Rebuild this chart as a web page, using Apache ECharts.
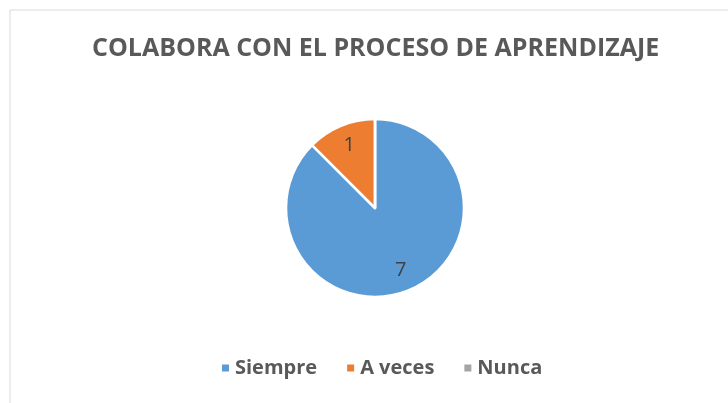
<!DOCTYPE html>
<html><head><meta charset="utf-8">
<script src="https://cdn.jsdelivr.net/npm/echarts@6/dist/echarts.min.js"></script>
<style>html,body{margin:0;padding:0;background:#fff}#c{width:728px;height:403px}</style>
</head><body><div id="c"></div>
<script>
const titleText = 'COLABORA CON EL PROCESO DE APRENDIZAJE';
const categories = ['Siempre', 'A veces', 'Nunca'];
const values = [7, 1, 0];
const colors = ['#5B9BD5', '#ED7D31', '#A5A5A5'];

const chart = echarts.init(document.getElementById('c'));
const data = categories.map((n, i) => ({ name: n, value: values[i] }));
chart.setOption({
  animation: false,
  color: colors,
  title: {
    text: titleText, left: 87, top: 31,
    textStyle: { fontFamily: 'Open Sans', fontWeight: 'bold', fontSize: 25, color: '#595959' }
  },
  legend: {
    bottom: 20, left: 215, itemWidth: 9, itemHeight: 9, itemGap: 28, icon: 'rect',
    textStyle: { fontFamily: 'Open Sans', fontWeight: 'bold', fontSize: 20, color: '#595959' },
    data: categories
  },
  graphic: [{ type: 'rect', shape: { x: 10, y: 10, width: 730, height: 400 }, style: { fill: 'none', stroke: '#D9D9D9', lineWidth: 1 }, silent: true }],
  series: [
    {
      type: 'pie', center: [375, 208], radius: [0, 89], startAngle: 90, clockwise: true,
      itemStyle: { borderColor: '#fff', borderWidth: 2.5 },
      label: { show: false }, labelLine: { show: false },
      data: data
    },
    {
      type: 'pie', center: [375, 208], radius: [40, 89], startAngle: 90, clockwise: true, silent: true,
      itemStyle: { color: 'rgba(0,0,0,0)', borderWidth: 0 },
      label: {
        show: true, position: 'inside', fontFamily: 'Open Sans', fontSize: 20, color: '#404040',
        formatter: p => p.value > 0 ? String(p.value) : ''
      },
      labelLine: { show: false },
      data: data
    }
  ]
});
</script></body></html>
